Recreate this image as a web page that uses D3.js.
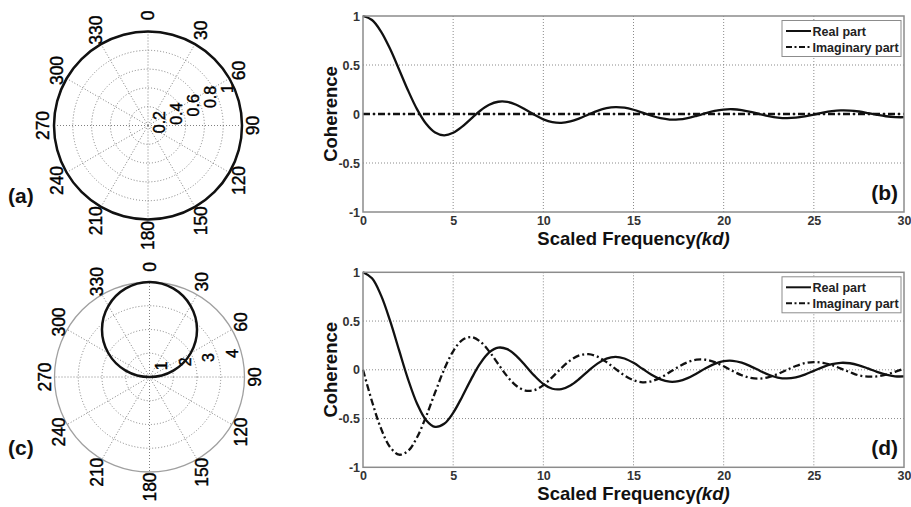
<!DOCTYPE html>
<html>
<head>
<meta charset="utf-8">
<script src="https://cdn.jsdelivr.net/npm/d3@7"></script>
<style>
body { margin: 0; background: #fff; }
svg { display: block; font-family: "Liberation Sans", Arial, sans-serif; }
</style>
</head>
<body>
<svg id="fig" width="911" height="507"></svg>
<script>
// scaled frequency kd at which the curves were read
var freq = [0, 0.5, 1, 1.5, 2, 2.5, 3, 3.5, 4, 4.5, 5, 5.5, 6, 6.5, 7, 7.5, 8, 8.5, 9, 9.5,
    10, 10.5, 11, 11.5, 12, 12.5, 13, 13.5, 14, 14.5, 15, 15.5, 16, 16.5, 17, 17.5, 18, 18.5, 19, 19.5,
    20, 20.5, 21, 21.5, 22, 22.5, 23, 23.5, 24, 24.5, 25, 25.5, 26, 26.5, 27, 27.5, 28, 28.5, 29, 29.5, 30];

// panel (b)
var realB = [1, 0.9589, 0.8415, 0.6650, 0.4546, 0.2394, 0.0470, -0.1002, -0.1892, -0.2172,
    -0.1918, -0.1283, -0.0466, 0.0331, 0.0939, 0.1251, 0.1237, 0.0939, 0.0458, -0.0079,
    -0.0544, -0.0838, -0.0909, -0.0761, -0.0447, -0.0053, 0.0323, 0.0595, 0.0708, 0.0645,
    0.0434, 0.0133, -0.0180, -0.0431, -0.0566, -0.0558, -0.0417, -0.0185, 0.0079, 0.0311,
    0.0456, 0.0486, 0.0398, 0.0219, -0.0004, -0.0216, -0.0368, -0.0425, -0.0377, -0.0241,
    -0.0053, 0.0141, 0.0293, 0.0370, 0.0354, 0.0254, 0.0097, -0.0079, -0.0229, -0.0319, -0.0329];
var imagBFreq = [0, 30];
var imagB = [0, 0];

// panel (d)
var realD = [1, 0.9386, 0.7636, 0.5040, 0.2012, -0.0976, -0.3482, -0.5166, -0.5852, -0.5540,
    -0.4410, -0.2758, -0.0954, 0.0650, 0.1778, 0.2270, 0.2116, 0.1434, 0.0444, -0.0600,
    -0.1456, -0.1944, -0.1982, -0.1600, -0.0916, -0.0106, 0.0636, 0.1146, 0.1328, 0.1162,
    0.0712, 0.0102, -0.0512, -0.0988, -0.1220, -0.1166, -0.0854, -0.0374, 0.0158, 0.0612,
    0.0882, 0.0920, 0.0726, 0.0356, -0.0090, -0.0506, -0.0794, -0.0888, -0.0774, -0.0488,
    -0.0106, 0.0280, 0.0576, 0.0718, 0.0672, 0.0462, 0.0144, -0.0206, -0.0500, -0.0668, -0.0676];
var imagD = [0, -0.3248, -0.6024, -0.7924, -0.8708, -0.8324, -0.6914, -0.4780, -0.2322, 0.0030,
    0.1902, 0.3044, 0.3356, 0.2902, 0.1886, 0.0590, -0.0674, -0.1638, -0.2126, -0.2084,
    -0.1570, -0.0746, 0.0174, 0.0972, 0.1480, 0.1604, 0.1346, 0.0794, 0.0094, -0.0578,
    -0.1070, -0.1280, -0.1176, -0.0800, -0.0258, 0.0314, 0.0780, 0.1036, 0.1032, 0.0784,
    0.0362, -0.0126, -0.0560, -0.0840, -0.0910, -0.0756, -0.0432, -0.0016, 0.0386, 0.0678,
    0.0796, 0.0720, 0.0476, 0.0124, -0.0242, -0.0574, -0.0694, -0.0678, -0.0500, -0.0208, 0.0124];

var xTicks = [0, 5, 10, 15, 20, 25, 30];
var yTicks = [-1, -0.5, 0, 0.5, 1];
var legendLabels = ["Real part", "Imaginary part"];

// polar patterns, degrees clockwise from the top
var angleA = [0, 15, 30, 45, 60, 75, 90, 105, 120, 135, 150, 165, 180, 195, 210, 225, 240, 255, 270, 285, 300, 315, 330, 345];
var radiusA = [1, 1, 1, 1, 1, 1, 1, 1, 1, 1, 1, 1, 1, 1, 1, 1, 1, 1, 1, 1, 1, 1, 1, 1];
var angleC = [-75, -60, -45, -30, -15, 0, 15, 30, 45, 60, 75, 90];
var radiusC = [1.04, 2.0, 2.83, 3.46, 3.86, 4, 3.86, 3.46, 2.83, 2.0, 1.04, 0];
var angleTicks = [0, 30, 60, 90, 120, 150, 180, 210, 240, 270, 300, 330];
var ringsA = [0.2, 0.4, 0.6, 0.8, 1];
var ringsC = [1, 2, 3, 4];

(function () {

    var svg = d3.select('#fig');
    var rad = Math.PI / 180;

    // polar plot with dotted rings and spokes
    function drawPolar(opt) {
        var g = svg.append('g')
            .attr('transform', 'translate(' + opt.cx + ',' + opt.cy + ')');

        var rmax = opt.rings[opt.rings.length - 1];
        var r = d3.scaleLinear().domain([0, rmax]).range([0, opt.radius]);

        g.selectAll('circle.ring')
            .data(opt.rings.slice(0, -1))
            .enter().append('circle')
            .attr('r', function (d) { return r(d); })
            .attr('fill', 'none')
            .attr('stroke', '#808080')
            .attr('stroke-dasharray', '1,2');

        g.selectAll('line.spoke')
            .data(angleTicks)
            .enter().append('line')
            .attr('x1', 0)
            .attr('y1', 0)
            .attr('x2', function (d) { return opt.radius * Math.sin(d * rad); })
            .attr('y2', function (d) { return -opt.radius * Math.cos(d * rad); })
            .attr('stroke', '#808080')
            .attr('stroke-dasharray', '1,2');

        g.append('circle')
            .attr('r', opt.radius)
            .attr('fill', 'none')
            .attr('stroke', '#a0a0a0')
            .attr('stroke-width', 1.3);

        // angle labels, turned on their side
        g.selectAll('text.angle')
            .data(angleTicks)
            .enter().append('text')
            .attr('transform', function (d) {
                return 'translate(' + (105 * Math.sin(d * rad)) + ',' + (-110 * Math.cos(d * rad)) + ') rotate(-90)';
            })
            .attr('text-anchor', 'middle')
            .attr('dy', '0.35em')
            .attr('font-size', 17.5)
            .attr('fill', '#000')
            .attr('stroke', '#000')
            .attr('stroke-width', 0.4)
            .text(function (d) { return d; });

        // radial labels
        g.selectAll('text.ring')
            .data(opt.rings)
            .enter().append('text')
            .attr('transform', function (d) {
                var px = r(d) * Math.sin(opt.labelAngle * rad) + opt.labelDx;
                var py = -r(d) * Math.cos(opt.labelAngle * rad) + opt.labelDy;
                return 'translate(' + px + ',' + py + ') rotate(-90)';
            })
            .attr('text-anchor', 'middle')
            .attr('dy', '0.35em')
            .attr('font-size', 16)
            .attr('fill', '#000')
            .attr('stroke', '#000')
            .attr('stroke-width', 0.4)
            .text(function (d) { return d; });

        var line = d3.lineRadial()
            .angle(function (d) { return d[0] * rad; })
            .radius(function (d) { return r(d[1]); })
            .curve(d3.curveCatmullRomClosed);

        g.append('path')
            .datum(d3.zip(opt.angles, opt.radii))
            .attr('d', line)
            .attr('fill', 'none')
            .attr('stroke', '#111')
            .attr('stroke-width', 2.5);

        svg.append('text')
            .attr('x', opt.tagX)
            .attr('y', opt.tagY)
            .attr('font-size', 21)
            .attr('font-weight', 'bold')
            .attr('fill', '#111')
            .text(opt.tag);
    }

    // coherence versus scaled frequency
    function drawCoherence(opt) {
        var x = d3.scaleLinear().domain([0, 30]).range([opt.left, opt.right]);
        var y = d3.scaleLinear().domain([-1, 1]).range([opt.bottom, opt.top]);
        var g = svg.append('g');

        // dotted grid
        g.selectAll('line.vgrid')
            .data(xTicks.slice(1, -1))
            .enter().append('line')
            .attr('x1', function (d) { return x(d); })
            .attr('x2', function (d) { return x(d); })
            .attr('y1', opt.top)
            .attr('y2', opt.bottom)
            .attr('stroke', '#8a8a8a')
            .attr('stroke-dasharray', '1,2');

        g.selectAll('line.hgrid')
            .data(yTicks.slice(1, -1))
            .enter().append('line')
            .attr('x1', opt.left)
            .attr('x2', opt.right)
            .attr('y1', function (d) { return y(d); })
            .attr('y2', function (d) { return y(d); })
            .attr('stroke', '#8a8a8a')
            .attr('stroke-dasharray', '1,2');

        // tick labels, plain hyphen for negatives
        var xAxis = g.append('g')
            .attr('transform', 'translate(0,' + opt.bottom + ')')
            .call(d3.axisBottom(x).tickValues(xTicks).tickSize(0).tickPadding(4));
        var yAxis = g.append('g')
            .attr('transform', 'translate(' + opt.left + ',0)')
            .call(d3.axisLeft(y).tickValues(yTicks).tickSize(0).tickPadding(3)
                .tickFormat(function (d) { return String(d); }));

        [xAxis, yAxis].forEach(function (a) {
            a.select('.domain').remove();
            a.attr('font-family', null)
                .attr('font-size', 12.5)
                .attr('font-weight', 'bold');
            a.selectAll('text').attr('fill', '#333');
        });

        var line = d3.line()
            .x(function (d) { return x(d[0]); })
            .y(function (d) { return y(d[1]); })
            .curve(d3.curveCatmullRom);

        g.append('path')
            .datum(d3.zip(opt.imagFreq, opt.imag))
            .attr('d', line)
            .attr('fill', 'none')
            .attr('stroke', '#111')
            .attr('stroke-width', 2.3)
            .attr('stroke-dasharray', '7,3,2,3');

        g.append('path')
            .datum(d3.zip(freq, opt.real))
            .attr('d', line)
            .attr('fill', 'none')
            .attr('stroke', '#111')
            .attr('stroke-width', 2.3);

        // frame
        g.append('rect')
            .attr('x', opt.left)
            .attr('y', opt.top)
            .attr('width', opt.right - opt.left)
            .attr('height', opt.bottom - opt.top)
            .attr('fill', 'none')
            .attr('stroke', '#8c8c8c')
            .attr('stroke-width', 1.5);

        // legend
        var lg = g.append('g')
            .attr('transform', 'translate(782,' + (opt.top + 4.5) + ')');
        lg.append('rect')
            .attr('width', 119)
            .attr('height', 36)
            .attr('fill', '#fff')
            .attr('stroke', '#8c8c8c');
        lg.selectAll('line')
            .data(legendLabels)
            .enter().append('line')
            .attr('x1', 4)
            .attr('x2', 29)
            .attr('y1', function (d, i) { return 10.5 + i * 16; })
            .attr('y2', function (d, i) { return 10.5 + i * 16; })
            .attr('stroke', '#111')
            .attr('stroke-width', 2)
            .attr('stroke-dasharray', function (d, i) { return i ? '6,2.5,2,2.5' : null; });
        lg.selectAll('text')
            .data(legendLabels)
            .enter().append('text')
            .attr('x', 30.5)
            .attr('y', function (d, i) { return 15 + i * 16; })
            .attr('font-size', 12.5)
            .attr('font-weight', 'bold')
            .attr('fill', '#222')
            .text(function (d) { return d; });

        // axis titles
        svg.append('text')
            .attr('transform', 'translate(331,' + ((opt.top + opt.bottom) / 2) + ') rotate(-90)')
            .attr('text-anchor', 'middle')
            .attr('dy', '0.35em')
            .attr('font-size', 18.5)
            .attr('font-weight', 'bold')
            .attr('fill', '#111')
            .text('Coherence');

        var xt = svg.append('text')
            .attr('x', (opt.left + opt.right) / 2)
            .attr('y', opt.bottom + 33)
            .attr('text-anchor', 'middle')
            .attr('font-size', 18.5)
            .attr('font-weight', 'bold')
            .attr('fill', '#111');
        xt.append('tspan').text('Scaled Frequency');
        xt.append('tspan').attr('font-style', 'italic').text('(kd)');

        svg.append('text')
            .attr('x', opt.right - 6)
            .attr('y', opt.bottom - 12)
            .attr('text-anchor', 'end')
            .attr('font-size', 21)
            .attr('font-weight', 'bold')
            .attr('fill', '#111')
            .text(opt.tag);
    }

    drawPolar({
        cx: 148, cy: 125.5, radius: 94,
        rings: ringsA, angles: angleA, radii: radiusA,
        labelAngle: 63.5, labelDx: -5, labelDy: 5,
        tag: '(a)', tagX: 8, tagY: 203
    });

    drawPolar({
        cx: 149.5, cy: 377, radius: 95,
        rings: ringsC, angles: angleC, radii: radiusC,
        labelAngle: 80, labelDx: -11, labelDy: -7,
        tag: '(c)', tagX: 8, tagY: 455
    });

    drawCoherence({
        left: 363, right: 904, top: 16, bottom: 212,
        real: realB, imag: imagB, imagFreq: imagBFreq, tag: '(b)'
    });

    drawCoherence({
        left: 363, right: 904, top: 272.3, bottom: 467.3,
        real: realD, imag: imagD, imagFreq: freq, tag: '(d)'
    });

}());
</script>
</body>
</html>
